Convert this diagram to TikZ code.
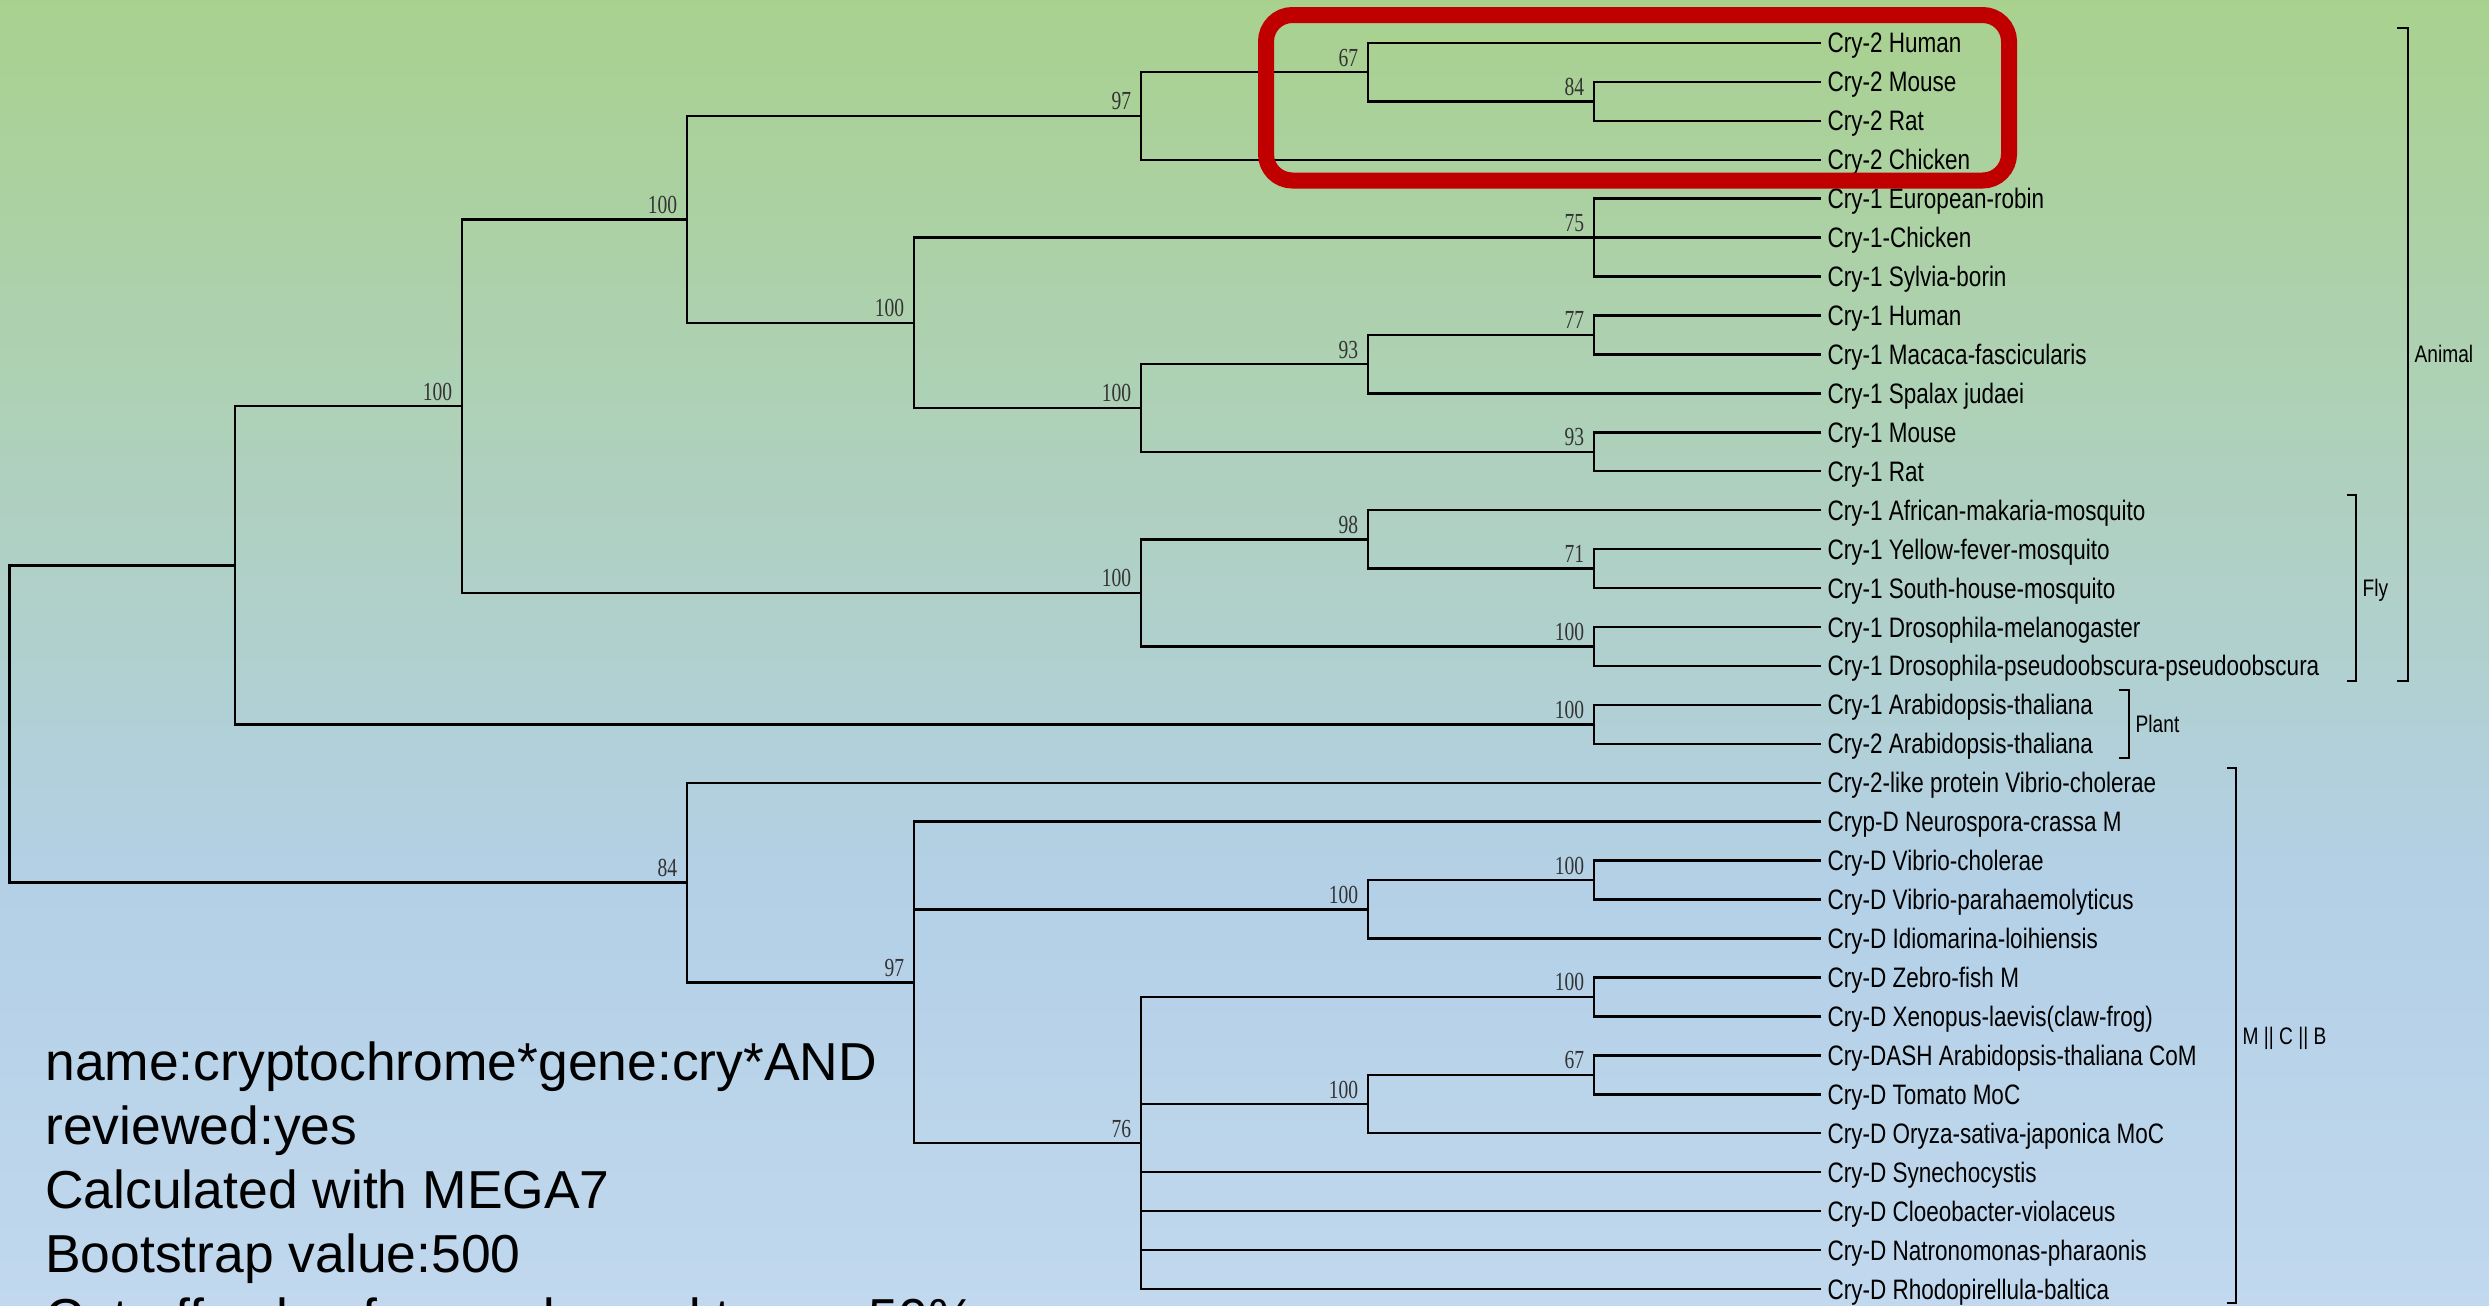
\documentclass[tikz,border=0pt]{standalone}
\usepackage{fontspec}
\setmainfont{Liberation Sans}
\newfontfamily\leaffont[FakeStretch=0.8]{Liberation Sans}
\newfontfamily\bootfont[FakeStretch=0.75]{Liberation Serif}
\usetikzlibrary{positioning,calc}
\definecolor{bgtop}{HTML}{A9D18E}
\definecolor{bgmid}{HTML}{B3D0E6}
\definecolor{bgbot}{HTML}{C1D8EE}
\definecolor{boxred}{HTML}{C00000}

\begin{document}
\begin{tikzpicture}[x=0.01cm, y=-0.01cm,
		branch/.style={line width=0.7pt},
		bracket/.style={line width=0.55pt},
		leaf/.style={font=\leaffont\fontsize{8}{9.6}\selectfont, inner sep=0pt, text height=5.7pt, text depth=0pt},
		boot/.style={font=\bootfont\fontsize{7.4}{8.8}\selectfont, text=black!80, inner sep=0pt, anchor=base east, xshift=-2.6pt, yshift=1.7pt},
		grp/.style={font=\leaffont\fontsize{6.8}{8}\selectfont, inner sep=0pt, text height=4.9pt, text depth=0pt, anchor=west, xshift=1.7pt},
		info/.style={font=\fontsize{15.2}{18}\selectfont, inner sep=0pt, anchor=base west},
		redbox/.style={draw=boxred, line width=4.55pt, rounded corners=7.5pt}]

			\useasboundingbox (0,0) rectangle (2489,1305);
			\fill[top color=bgtop, bottom color=bgmid] (0,0) rectangle (2489,880);
			\fill[top color=bgmid, bottom color=bgbot] (0,880) rectangle (2489,1305);

			% leaves
			\foreach \name [count=\i from 0] in {Cry-2 Human, Cry-2 Mouse, Cry-2 Rat, Cry-2 Chicken,
				Cry-1 European-robin, Cry-1-Chicken, Cry-1 Sylvia-borin, Cry-1 Human,
				Cry-1 Macaca-fascicularis, Cry-1 Spalax judaei, Cry-1 Mouse, Cry-1 Rat,
				Cry-1 African-makaria-mosquito, Cry-1 Yellow-fever-mosquito, Cry-1 South-house-mosquito,
				Cry-1 Drosophila-melanogaster, Cry-1 Drosophila-pseudoobscura-pseudoobscura,
				Cry-1 Arabidopsis-thaliana, Cry-2 Arabidopsis-thaliana,
				Cry-2-like protein Vibrio-cholerae, Cryp-D Neurospora-crassa M,
				Cry-D Vibrio-cholerae, Cry-D Vibrio-parahaemolyticus, Cry-D Idiomarina-loihiensis,
				Cry-D Zebro-fish M, Cry-D Xenopus-laevis(claw-frog), Cry-DASH Arabidopsis-thaliana CoM,
				Cry-D Tomato MoC, Cry-D Oryza-sativa-japonica MoC, Cry-D Synechocystis,
				Cry-D Cloeobacter-violaceus, Cry-D Natronomonas-pharaonis, Cry-D Rhodopirellula-baltica}{
				\coordinate (l\i) at (1821, {42.9+38.94*\i});
				\node[leaf, right=1.7pt of l\i] (t\i) {\name};
			}

			% inner nodes
			\coordinate (n84a) at (1594, 101.31);
			\coordinate (n67a) at (1368, 72.1);
			\coordinate (n97a) at (1141, 115.91);
			\coordinate (n75) at (1594, 237.6);
			\coordinate (n77) at (1594, 334.95);
			\coordinate (n93a) at (1368, 364.16);
			\coordinate (n93b) at (1594, 451.77);
			\coordinate (n100a) at (1141, 407.96);
			\coordinate (n100b) at (914, 322.78);
			\coordinate (n100c) at (687, 219.35);
			\coordinate (n71) at (1594, 568.59);
			\coordinate (n98) at (1368, 539.39);
			\coordinate (n100d) at (1594, 646.47);
			\coordinate (n100e) at (1141, 592.93);
			\coordinate (n100f) at (462, 406.14);
			\coordinate (n100g) at (1594, 724.35);
			\coordinate (n100h) at (235, 565.25);
			\coordinate (n100i) at (1594, 880.11);
			\coordinate (n100j) at (1368, 909.32);
			\coordinate (n100k) at (1594, 996.93);
			\coordinate (n67b) at (1594, 1074.81);
			\coordinate (n100l) at (1368, 1104.02);
			\coordinate (n76) at (1141, 1142.96);
			\coordinate (n97b) at (914, 982.33);
			\coordinate (n84b) at (687, 882.55);
			\coordinate (root) at (9.5, 723.9);

			\foreach \p/\c in {n84a/l1, n84a/l2, n67a/l0, n67a/n84a, n97a/n67a, n97a/l3,
				n75/l4, n75/l5, n75/l6, n77/l7, n77/l8, n93a/n77, n93a/l9, n93b/l10, n93b/l11,
				n100a/n93a, n100a/n93b, n100b/n75, n100b/n100a, n100c/n97a, n100c/n100b,
				n71/l13, n71/l14, n98/l12, n98/n71, n100d/l15, n100d/l16, n100e/n98, n100e/n100d,
				n100f/n100c, n100f/n100e, n100g/l17, n100g/l18, n100h/n100f, n100h/n100g,
				n100i/l21, n100i/l22, n100j/n100i, n100j/l23, n100k/l24, n100k/l25,
				n67b/l26, n67b/l27, n100l/n67b, n100l/l28,
				n76/n100k, n76/n100l, n76/l29, n76/l30, n76/l31, n76/l32,
				n97b/l20, n97b/n100j, n97b/n76, n84b/l19, n84b/n97b, root/n100h, root/n84b}
				\draw[branch] (\p) |- (\c);

			% bootstrap values
			\foreach \n/\v in {n84a/84, n67a/67, n97a/97, n75/75, n77/77, n93a/93, n93b/93,
				n100a/100, n100b/100, n100c/100, n71/71, n98/98, n100d/100, n100e/100, n100f/100,
				n100g/100, n100i/100, n100j/100, n100k/100, n67b/67, n100l/100,
				n76/76, n97b/97, n84b/84}
				\node[boot] (b\n) at (\n) {\v};

			% groups
			\coordinate (animalT) at (2408, 27.7);
			\coordinate (animalB) at (2408, 680.7);
			\draw[bracket] ([xshift=-3.1pt]animalT) -- (animalT) -- (animalB) -- ([xshift=-3.1pt]animalB);
			\node[grp] (animal) at ($(animalT)!.5!(animalB)$) {Animal};

			\coordinate (flyT) at (2356, 495);
			\coordinate (flyB) at (2356, 680.7);
			\draw[bracket] ([xshift=-2.6pt]flyT) -- (flyT) -- (flyB) -- ([xshift=-2.6pt]flyB);
			\node[grp] (fly) at ($(flyT)!.5!(flyB)$) {Fly};

			\coordinate (plantT) at (2129, 690);
			\coordinate (plantB) at (2129, 758);
			\draw[bracket] ([xshift=-2.8pt]plantT) -- (plantT) -- (plantB) -- ([xshift=-2.8pt]plantB);
			\node[grp] (plant) at ($(plantT)!.5!(plantB)$) {Plant};

			\coordinate (mcbT) at (2236, 768);
			\coordinate (mcbB) at (2236, 1303);
			\draw[bracket] ([xshift=-2.6pt]mcbT) -- (mcbT) -- (mcbB) -- ([xshift=-2.6pt]mcbB);
			\node[grp] (mcb) at ($(mcbT)!.5!(mcbB)$) {M || C || B};

			% notes
			\foreach \txt [count=\k from 0] in {name:cryptochrome*gene:cry*AND, reviewed:yes,
				Calculated with MEGA7, Bootstrap value:500, Cut-off value for condensed tree = 50\%}
				\node[info] (info\k) at (44.6, {1080+64.2*\k}) {\txt};

			\draw[redbox] (1266, 15) rectangle (2009, 180.5);
		\end{tikzpicture}
\end{document}
